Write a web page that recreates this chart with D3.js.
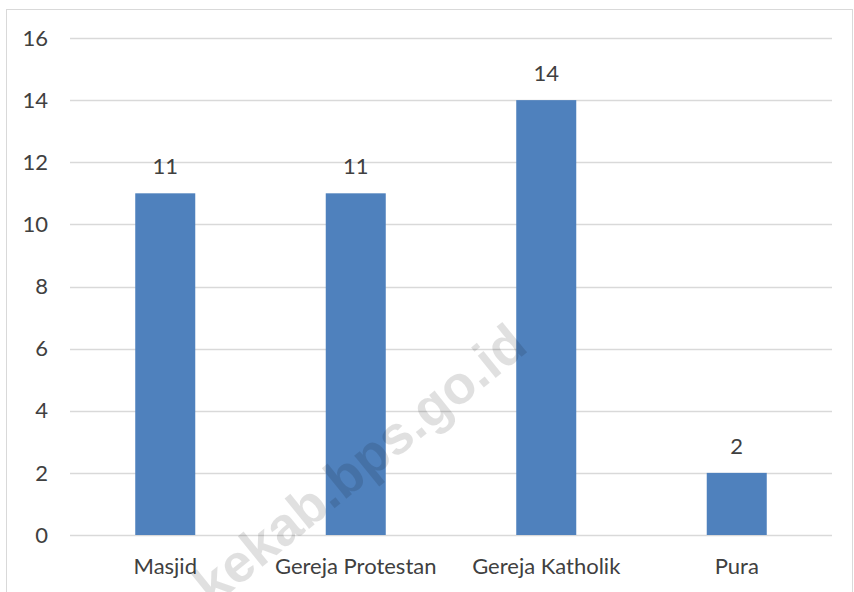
<!DOCTYPE html>
<meta charset="utf-8">
<body style="margin:0">
<style>

body { font-family: Lato, "Open Sans", sans-serif; }

.grid line {
  stroke: #d9d9d9;
  stroke-width: 1.3px;
}

.bar {
  fill: #4f81bd;
}

.tick-label, .cat-label, .val-label {
  fill: #404040;
  font-size: 22px;
}

</style>
<script src="https://d3js.org/d3.v7.min.js"></script>
<script>

var categories = ["Masjid", "Gereja Protestan", "Gereja Katholik", "Pura"];
var values = [11, 11, 14, 2];
var yTicks = [0, 2, 4, 6, 8, 10, 12, 14, 16];

var width = 854, height = 592;
var margin = {top: 38, right: 22, bottom: 57, left: 70};

var svg = d3.select("body").append("svg")
    .attr("width", width)
    .attr("height", height);

svg.append("rect")
    .attr("x", 6.5).attr("y", 9.5)
    .attr("width", 846).attr("height", 600)
    .attr("fill", "#fff")
    .attr("stroke", "#d9d9d9");

var x = d3.scaleBand()
    .domain(categories)
    .range([margin.left, width - margin.right])
    .paddingInner(0.685)
    .paddingOuter(0.3425);

var y = d3.scaleLinear()
    .domain([0, 16])
    .range([height - margin.bottom, margin.top]);

svg.append("g")
    .attr("class", "grid")
  .selectAll("line")
    .data(yTicks)
  .enter().append("line")
    .attr("x1", margin.left)
    .attr("x2", width - margin.right)
    .attr("y1", function(d) { return Math.round(y(d)) + 0.5; })
    .attr("y2", function(d) { return Math.round(y(d)) + 0.5; });

svg.append("g")
  .selectAll("text")
    .data(yTicks)
  .enter().append("text")
    .attr("class", "tick-label")
    .attr("x", 48)
    .attr("y", function(d) { return y(d); })
    .attr("dy", "0.35em")
    .attr("text-anchor", "end")
    .text(function(d) { return d; });

svg.append("g")
  .selectAll("rect")
    .data(values)
  .enter().append("rect")
    .attr("class", "bar")
    .attr("x", function(d, i) { return x(categories[i]); })
    .attr("width", x.bandwidth())
    .attr("y", function(d) { return y(d); })
    .attr("height", function(d) { return y(0) - y(d); });

svg.append("g")
  .selectAll("text")
    .data(values)
  .enter().append("text")
    .attr("class", "val-label")
    .attr("x", function(d, i) { return x(categories[i]) + x.bandwidth() / 2; })
    .attr("y", function(d) { return y(d) - 19; })
    .attr("text-anchor", "middle")
    .text(function(d) { return d; });

svg.append("g")
  .selectAll("text")
    .data(categories)
  .enter().append("text")
    .attr("class", "cat-label")
    .attr("x", function(d) { return x(d) + x.bandwidth() / 2; })
    .attr("y", y(0) + 39)
    .attr("text-anchor", "middle")
    .text(function(d) { return d; });

// watermark: faint overlay on top of everything
svg.append("text")
    .attr("transform", "translate(530,350) rotate(-39)")
    .attr("text-anchor", "end")
    .style("font-size", "54px")
    .style("font-weight", "bold")
    .style("fill", "#000")
    .style("fill-opacity", 0.12)
    .style("font-family", "'Liberation Sans', Arial, sans-serif")
    .text("kekab.bps.go.id");

</script>
</body>
